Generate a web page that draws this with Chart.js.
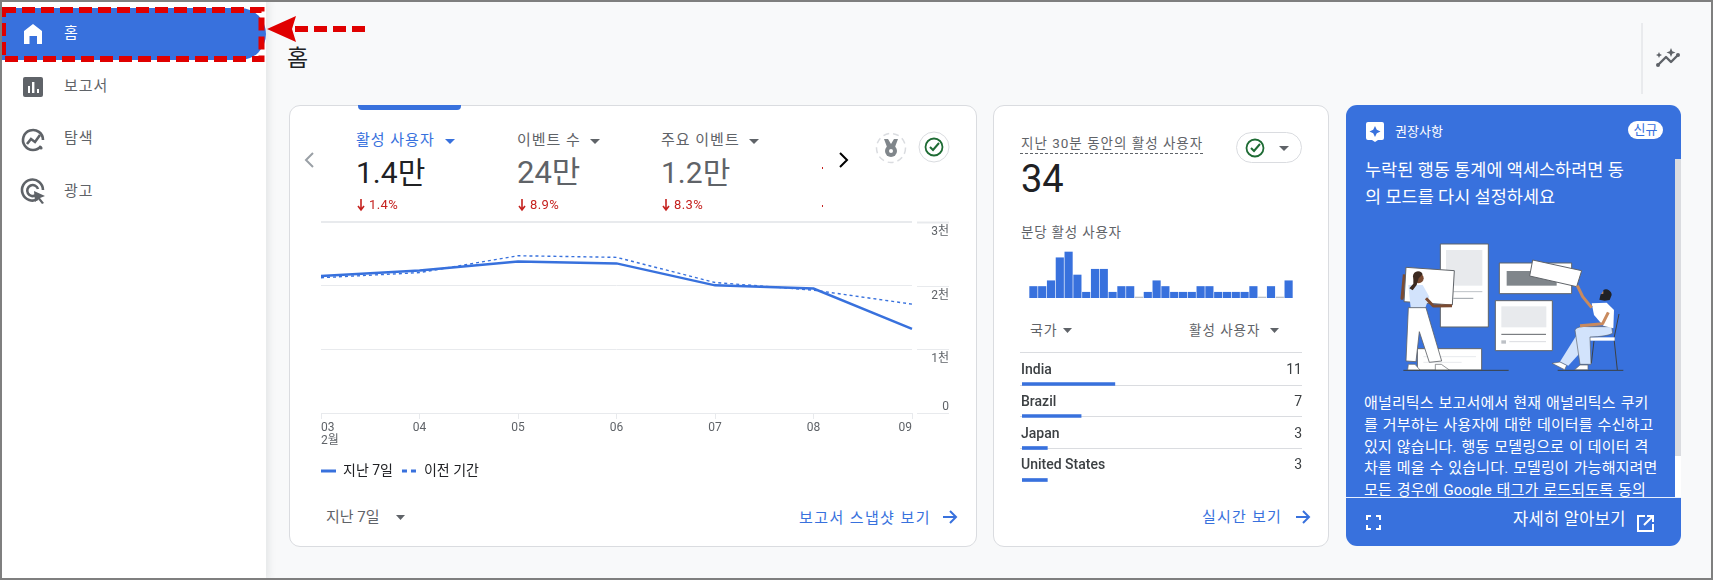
<!DOCTYPE html>
<html lang="ko"><head><meta charset="utf-8">
<style>
html,body{margin:0;padding:0;background:#f8f9fa;width:1713px;height:580px;overflow:hidden}
body{font-family:Roboto,"Noto Sans CJK KR",sans-serif;position:relative;color:#5f6368}
.a{position:absolute}
.t{position:absolute;white-space:nowrap;transform:translateY(-50%);line-height:1.2}
.card{position:absolute;box-sizing:border-box;background:#fff;border:1px solid #dadce0;border-radius:11px}
canvas{position:absolute;display:block}
svg{position:absolute;left:0;top:0}
</style>
<script src="https://cdn.jsdelivr.net/npm/chart.js@4"></script>
</head><body>
<div class="a" style="left:0;top:0;width:266px;height:580px;background:#fff;box-shadow:2px 0 8px rgba(60,64,67,.12)"></div>
<div class="a" style="left:2px;top:8px;width:264px;height:52px;background:#3871dd;border-radius:0 26px 26px 0"></div>
<div class="card" style="left:289px;top:105px;width:688px;height:442px"></div>
<div class="a" style="left:358px;top:105px;width:103px;height:5px;background:#3871dd;border-radius:0 0 4px 4px"></div>
<div class="card" style="left:993px;top:105px;width:336px;height:442px"></div>
<div class="a" style="left:1346px;top:105px;width:335px;height:441px;background:#3871dd;border-radius:11px;overflow:hidden">
  <div class="a" style="left:329px;top:54px;width:6px;height:297px;background:#dadce0"></div>
  <div class="a" style="left:329px;top:351px;width:6px;height:41px;background:#fff"></div>
  <div class="a" style="left:0;top:392px;width:335px;height:1px;background:#e8f0fe"></div>
  <div class="a" style="left:18px;top:288px;width:310px;height:104px;overflow:hidden;color:#fff;font-size:15px;line-height:21.8px;letter-spacing:.15px;word-spacing:1px;white-space:nowrap">애널리틱스 보고서에서 현재 애널리틱스 쿠키<br>를 거부하는 사용자에 대한 데이터를 수신하고<br>있지 않습니다. 행동 모델링으로 이 데이터 격<br>차를 메울 수 있습니다. 모델링이 가능해지려면<br>모든 경우에 Google 태그가 로드되도록 동의</div>
</div>

<svg width="1713" height="580" viewBox="0 0 1713 580">
  <line x1="1642" y1="23" x2="1642" y2="94" stroke="#dadce0"/>
  <g stroke="#dadce0"><line x1="1020" x2="1302" y1="352.5" y2="352.5"/><line x1="1020" x2="1302" y1="385.5" y2="385.5"/><line x1="1020" x2="1302" y1="416.5" y2="416.5"/><line x1="1020" x2="1302" y1="448.5" y2="448.5"/></g>
  <!-- sidebar icons -->
  <path d="M33 24 L42 31 V44 H37 V36 H29.5 V44 H24 V31 Z" fill="#fff"/>
  <rect x="23" y="77" width="20" height="20" rx="2" fill="#5f6368"/>
  <g fill="#fff"><rect x="28" y="86" width="2" height="7"/><rect x="32" y="82" width="2.4" height="11"/><rect x="37" y="89" width="2" height="4"/></g>
  <g fill="none" stroke="#5f6368" stroke-width="2.6">
    <path d="M41 146 A10 10 0 1 1 43 140"/><polyline points="27,144 31,139 35,142 40,135"/>
    <path d="M38 199 A10.5 10.5 0 1 1 43 190"/><path d="M36 195 A5.5 5.5 0 1 1 38 189"/>
  </g>
  <circle cx="41" cy="148" r="1.6" fill="#5f6368"/>
  <path d="M34 191 L45 196 L40 198 L44 203 L42 204 L38 199 L35 202 Z" fill="#5f6368"/>
  <!-- spark icon -->
  <g fill="none" stroke="#5f6368" stroke-width="2.4" stroke-linejoin="round"><polyline points="1658,65 1666,57 1671,62 1678,55"/></g>
  <g fill="#5f6368"><circle cx="1658" cy="65" r="2"/><circle cx="1678" cy="55" r="2"/>
  <path d="M1671 48 l1.3 3.2 3.2 1.3 -3.2 1.3 -1.3 3.2 -1.3 -3.2 -3.2 -1.3 3.2 -1.3z"/><path d="M1659 52 l.9 2.1 2.1 .9 -2.1 .9 -.9 2.1 -.9 -2.1 -2.1 -.9 2.1 -.9z"/></g>
  <!-- chevrons -->
  <polyline points="313,153 306,160 313,167" fill="none" stroke="#9aa0a6" stroke-width="2"/>
  <polyline points="840,153 847,160 840,167" fill="none" stroke="#000" stroke-width="2"/>
  <!-- medal -->
  <circle cx="891" cy="148" r="14.5" fill="#fff" stroke="#dadce0" stroke-width="1.5" stroke-dasharray="6 4"/>
  <g fill="#80868b"><path d="M884 139h4l3 5 3-5h4l-3 8h-8z"/><circle cx="891" cy="151" r="6"/></g><circle cx="891" cy="151" r="2" fill="#fff"/>
  <!-- checks -->
  <circle cx="934" cy="147" r="15" fill="#fff" stroke="#dadce0"/>
  <circle cx="934" cy="147" r="8.5" fill="none" stroke="#1e6b34" stroke-width="1.8"/>
  <polyline points="930,147 933,150 939,143" fill="none" stroke="#1e6b34" stroke-width="2"/>
  <rect x="1236.5" y="132.5" width="65" height="30" rx="15" fill="#fff" stroke="#dadce0"/>
  <circle cx="1255" cy="148" r="8.5" fill="none" stroke="#1e6b34" stroke-width="1.8"/>
  <polyline points="1251,148 1254,151 1260,144" fill="none" stroke="#1e6b34" stroke-width="2"/>
  <line x1="1020" x2="1203" y1="153.5" y2="153.5" stroke="#5f6368" stroke-dasharray="3 2"/>
  <!-- carets -->
  <g fill="#3871dd"><path d="M445 139 h10 l-5 5z"/></g>
  <g fill="#5f6368"><path d="M590 139 h10 l-5 5z"/><path d="M749 139 h10 l-5 5z"/><path d="M396 515 h9 l-4.5 5z"/><path d="M1279 146 h10 l-5 5z"/><path d="M1063 328 h9 l-4.5 5z"/><path d="M1270 328 h9 l-4.5 5z"/></g>
  <!-- arrows blue -->
  <g fill="none" stroke="#3871dd" stroke-width="2"><path d="M943 517 H955 M950 511 L956 517 L950 523"/><path d="M1296 517 H1308 M1303 511 L1309 517 L1303 523"/></g>
  <!-- red deltas -->
  <g stroke="#c5221f" stroke-width="1.6" fill="none"><path d="M361 199 V209 M358 206 L361 210 L364 206"/><path d="M522 199 V209 M519 206 L522 210 L525 206"/><path d="M666 199 V209 M663 206 L666 210 L669 206"/></g>
  <g fill="#c5221f"><rect x="822" y="167" width="1" height="2"/><rect x="822" y="205" width="1" height="2"/></g>
  <!-- recommendations icons -->
  <path fill-rule="evenodd" d="M1368 122 H1382 a2 2 0 0 1 2 2 V138 a2 2 0 0 1 -2 2 H1378 L1375 142 L1372 140 H1368 a2 2 0 0 1 -2 -2 V124 a2 2 0 0 1 2 -2z M1375 126 l1.8 3.7 3.7 1.8 -3.7 1.8 -1.8 3.7 -1.8 -3.7 -3.7 -1.8 3.7 -1.8z" fill="#fff"/>
  <g fill="none" stroke="#fff" stroke-width="2"><path d="M1367 520 V516 H1371 M1376 516 H1380 V520 M1380 525 V529 H1376 M1371 529 H1367 V525"/>
  <path d="M1645 516 H1638 V531 H1653 V524 M1644 525 L1652 517 M1647 516 H1653 V522"/></g>
  <!-- illustration -->
  <g transform="translate(1390 235) scale(.33333)" stroke-linejoin="round">
    <g fill="#fff" stroke="#5f6368" stroke-width="3">
      <rect x="151" y="27" width="144" height="249"/>
      <rect x="82" y="341" width="193" height="64"/>
      <rect x="328" y="84" width="217" height="92"/>
      <rect x="316" y="197" width="171" height="150"/>
    </g>
    <rect x="168" y="45" width="109" height="107" fill="#e8eaed"/>
    <rect x="350" y="108" width="150" height="44" fill="#80868b"/>
    <rect x="334" y="214" width="135" height="63" fill="#e8eaed"/>
    <g stroke-width="3" fill="none">
      <line x1="190" x2="277" y1="170" y2="170" stroke="#bdc1c6"/><line x1="190" x2="250" y1="190" y2="190" stroke="#9aa0a6"/>
      <line x1="334" x2="468" y1="298" y2="298" stroke="#5f6368"/><line x1="358" x2="468" y1="320" y2="320" stroke="#dadce0"/>
      <line x1="100" x2="258" y1="365" y2="365" stroke="#e8eaed"/><line x1="100" x2="215" y1="382" y2="382" stroke="#e8eaed"/>
    </g>
    <rect x="334" y="316" width="14" height="10" fill="#bdc1c6"/>
    <polygon points="428,75 575,107 560,155 419,123" fill="#fff" stroke="#5f6368" stroke-width="3"/>
    <polyline points="60,160 36,190 43,118" fill="none" stroke="#7b4b32" stroke-width="9"/>
    <polygon points="48,97 193,107 187,210 42,200" fill="#fff" stroke="#5f6368" stroke-width="3"/>
    <polygon points="55,150 98,150 118,185 106,218 62,218" fill="#d2e3fc"/>
    <polyline points="108,190 130,213 186,212" fill="none" stroke="#7b4b32" stroke-width="9"/>
    <polygon points="55,218 108,218 155,378 118,382 88,290 78,380 48,378" fill="#fff" stroke="#5f6368" stroke-width="2.5"/>
    <circle cx="86" cy="130" r="15" fill="#7b4b32"/><path d="M70 130 a15 15 0 0 1 28 -12 l-12 12 -6 20 -12 16 -10 -6 12 -14z" fill="#3c2a20"/>
    <g fill="#fff" stroke="#5f6368" stroke-width="2"><path d="M55 388 h20 l15 17 h-37z"/><path d="M136 388 h18 l24 17 h-42z"/></g>
    <line x1="40" x2="356" y1="406" y2="406" stroke="#3c4043" stroke-width="3"/>
    <line x1="503" x2="700" y1="406" y2="406" stroke="#3c4043" stroke-width="3"/>
    <g stroke="#3c4043" stroke-width="3" fill="none"><polyline points="687,237 672,310 682,405"/><line x1="612" y1="318" x2="604" y2="385"/></g>
    <rect x="600" y="307" width="74" height="10" fill="#fff"/>
    <polygon points="560,300 510,380 535,392 600,320" fill="#d2e3fc"/>
    <path d="M555 285 Q560 272 600 275 H665 L668 295 Q650 305 600 306 L603 388 H570z" fill="#d2e3fc" stroke="#5f6368" stroke-width="2"/>
    <polygon points="605,205 650,203 672,225 670,280 640,272 612,240" fill="#fff"/>
    <polyline points="605,218 578,185 562,152" fill="none" stroke="#c98a5e" stroke-width="9"/>
    <polyline points="655,232 638,266 570,272" fill="none" stroke="#c98a5e" stroke-width="9"/>
    <circle cx="648" cy="180" r="14" fill="#c98a5e"/><path d="M640 165 a17 17 0 0 1 25 15 l-6 15 -15 2 -16 -3 4 -16 8 -2z" fill="#202124"/>
    <g fill="#fff" stroke="#5f6368" stroke-width="2"><path d="M486 385 l24 -4 20 10 -6 13z"/><path d="M570 390 h24 v14 h-40z"/></g>
  </g>
  <!-- annotation -->
  <rect x="3" y="10" width="258.5" height="49" fill="none" stroke="#e00000" stroke-width="6" stroke-dasharray="13 6"/>
  <path d="M267 29 L296 16 L292 29 L296 42 Z" fill="#e00000"/>
  <line x1="295" x2="366" y1="29" y2="29" stroke="#e00000" stroke-width="6" stroke-dasharray="13 6"/>
</svg>

<canvas id="trend" style="left:312px;top:200px;width:637px;height:288px" width="637" height="288"></canvas>
<canvas id="minute" style="left:1029px;top:250px;width:264px;height:48px" width="264" height="48"></canvas>
<canvas id="countries" style="left:1022px;top:368px;width:287px;height:128px" width="287" height="128"></canvas>

<span class="t" style="left:64px;top:33px;font-size:15px;color:#fff">홈</span>
<span class="t" style="left:64px;top:86px;font-size:15px;letter-spacing:1px">보고서</span>
<span class="t" style="left:64px;top:138px;font-size:15px;letter-spacing:1px">탐색</span>
<span class="t" style="left:64px;top:191px;font-size:15px;letter-spacing:1px">광고</span>
<span class="t" style="left:287px;top:59px;font-size:23px;color:#202124">홈</span>

<span class="t" style="left:356px;top:140px;font-size:15px;color:#3871dd;letter-spacing:1px">활성 사용자</span>
<span class="t" style="left:517px;top:140px;font-size:15px;color:#5f6368;letter-spacing:1px">이벤트 수</span>
<span class="t" style="left:661px;top:140px;font-size:15px;color:#5f6368;letter-spacing:1px">주요 이벤트</span>
<span class="t" style="left:356px;top:173px;font-size:30px;color:#202124">1.4만</span>
<span class="t" style="left:517px;top:173px;font-size:31px;color:#5f6368">24만</span>
<span class="t" style="left:661px;top:173px;font-size:30px;color:#5f6368">1.2만</span>
<span class="t" style="left:369px;top:205px;font-size:13px;color:#c5221f;letter-spacing:.4px">1.4%</span>
<span class="t" style="left:530px;top:205px;font-size:13px;color:#c5221f;letter-spacing:.4px">8.9%</span>
<span class="t" style="left:674px;top:205px;font-size:13px;color:#c5221f;letter-spacing:.4px">8.3%</span>

<span class="t" style="left:326px;top:517px;font-size:15px;color:#5f6368">지난 7일</span>
<span class="t" style="left:799px;top:518px;font-size:15px;color:#3871dd;letter-spacing:1.4px">보고서 스냅샷 보기</span>

<span class="t" style="left:1021px;top:143px;font-size:13.5px;color:#5f6368;letter-spacing:1px">지난 30분 동안의 활성 사용자</span>
<span class="t" style="left:1021px;top:180px;font-size:38px;color:#202124">34</span>
<span class="t" style="left:1021px;top:232px;font-size:13.5px;color:#5f6368;letter-spacing:.8px">분당 활성 사용자</span>
<span class="t" style="left:1030px;top:330px;font-size:14px;color:#5f6368;letter-spacing:.8px">국가</span>
<span class="t" style="left:1189px;top:330px;font-size:13.5px;color:#5f6368;letter-spacing:1px">활성 사용자</span>
<div id="rows"></div>
<span class="t" style="left:1202px;top:517px;font-size:15px;color:#3871dd;letter-spacing:1.2px">실시간 보기</span>

<span class="t" style="left:1395px;top:132px;font-size:13px;color:#fff">권장사항</span>
<span class="a" style="left:1628px;top:121px;width:35px;height:18px;border-radius:9px;background:#fff;color:#3871dd;font-size:13px;line-height:18px;text-align:center">신규</span>
<span class="t" style="left:1365px;top:170px;font-size:17.5px;color:#fff">누락된 행동 통계에 액세스하려면 동</span>
<span class="t" style="left:1365px;top:197px;font-size:17.5px;color:#fff">의 모드를 다시 설정하세요</span>
<span class="t" style="left:1513px;top:520px;font-size:16.5px;color:#fff;letter-spacing:.3px">자세히 알아보기</span>
<div class="a" style="left:0;top:0;width:1713px;height:580px;box-sizing:border-box;border:2px solid #7f7f7f;pointer-events:none"></div>

<script>
const days = [['03','2월'],'04','05','06','07','08','09'];
const last7Days = [2150,2240,2380,2350,2005,1955,1320];
const previousPeriod = [2125,2205,2470,2445,2050,1930,1710];
const yTickLabels = ['0','1천','2천','3천'];
const seriesNames = ['지난 7일','이전 기간'];
const perMinute = [2,2,3,7,8,4,1,5,5,1,2,2,0,1,3,2,1,1,1,2,2,1,1,1,1,2,0,2,0,3];
const countries = ['India','Brazil','Japan','United States'];
const countryUsers = [11,7,3,3];
const BLUE = '#3871dd', GRID = '#e8eaed';

const gridTail = {
  id:'gridTail',
  afterDraw(c){
    const y=c.scales.y, g=c.ctx;
    g.save(); g.strokeStyle=GRID;
    y.ticks.forEach(t=>{
      const p=Math.round(y.getPixelForValue(t.value))+.5;
      g.lineWidth=t.value===3000?2:1;
      g.beginPath(); g.moveTo(c.chartArea.right+5,p); g.lineTo(c.width,p); g.stroke();
    });
    g.restore();
  }
};

new Chart(document.getElementById('trend'),{
  type:'line',
  data:{labels:days,datasets:[
    {label:seriesNames[0],data:last7Days,borderColor:BLUE,borderWidth:2.5,pointRadius:0,tension:0},
    {label:seriesNames[1],data:previousPeriod,borderColor:BLUE,borderWidth:1.4,borderDash:[3,3],pointRadius:0,tension:0}
  ]},
  plugins:[gridTail],
  options:{
    responsive:false,animation:false,devicePixelRatio:1,
    layout:{padding:{left:0,right:0,top:22,bottom:0}},
    plugins:{tooltip:{enabled:false},
      legend:{position:'bottom',align:'start',
        labels:{usePointStyle:true,pointStyle:'line',pointStyleWidth:15,boxHeight:3,padding:9,color:'#202124',
          font:{family:'Roboto,"Noto Sans CJK KR"',size:14},
          generateLabels:ch=>ch.data.datasets.map((d,i)=>({text:d.label,datasetIndex:i,strokeStyle:BLUE,fillStyle:BLUE,fontColor:'#202124',pointStyle:'line',lineWidth:3,lineDash:i?[5,4]:[]}))
        }}},
    scales:{
      x:{type:'category',
        afterFit:s=>{s.height=42;s.paddingLeft=9;s.paddingRight=0;},
        grid:{drawOnChartArea:false,drawTicks:true,tickLength:6,tickColor:GRID,color:GRID},
        border:{color:GRID},
        ticks:{align:'inner',autoSkip:false,maxRotation:0,padding:2,color:'#5f6368',font:{family:'Roboto,"Noto Sans CJK KR"',size:12,lineHeight:'13px'}}
      },
      y:{position:'right',min:0,max:3000,
        afterFit:s=>{s.width=37;s.paddingTop=0;s.paddingBottom=0;},
        grid:{color:GRID,lineWidth:c=>c.tick.value===3000?2:1,drawTicks:false},
        border:{display:false},
        ticks:{stepSize:1000,crossAlign:'far',padding:18,color:'#5f6368',autoSkip:false,
          font:c=>({family:'Roboto,"Noto Sans CJK KR"',size:12,lineHeight:c.tick&&c.tick.value===0?'12px':'20px'}),
          callback:v=>{const l=yTickLabels[v/1000];return v===0?[l,'']:['',l];}}
      }
    }
  }
});

new Chart(document.getElementById('minute'),{
  type:'bar',
  data:{labels:perMinute.map((_,i)=>String(i+1)),datasets:[{data:perMinute,
    backgroundColor:perMinute.map(v=>v===0?'#bdc1c6':BLUE),barThickness:7.5,minBarLength:1}]},
  options:{responsive:false,animation:false,devicePixelRatio:1,
    plugins:{legend:{display:false},tooltip:{enabled:false}},
    scales:{x:{display:false},y:{display:false,min:0,max:8.35}}}
});

new Chart(document.getElementById('countries'),{
  type:'bar',
  data:{labels:countries,datasets:[{data:countryUsers,backgroundColor:BLUE,barThickness:3}]},
  options:{indexAxis:'y',responsive:false,animation:false,devicePixelRatio:1,
    plugins:{legend:{display:false},tooltip:{enabled:false}},
    scales:{x:{display:false,min:0,max:34},y:{display:false}}}
});

const rows=document.getElementById('rows');
countries.forEach((n,i)=>{
  const top=[369,401,433,464][i];
  rows.insertAdjacentHTML('beforeend',
   `<span class="t" style="left:1021px;top:${top}px;font-size:14px;font-weight:500;color:#3c4043">${n}</span>`+
   `<span class="t" style="right:${1713-1302}px;top:${top}px;font-size:14px;color:#3c4043">${countryUsers[i]}</span>`);
});
</script>
</body></html>
